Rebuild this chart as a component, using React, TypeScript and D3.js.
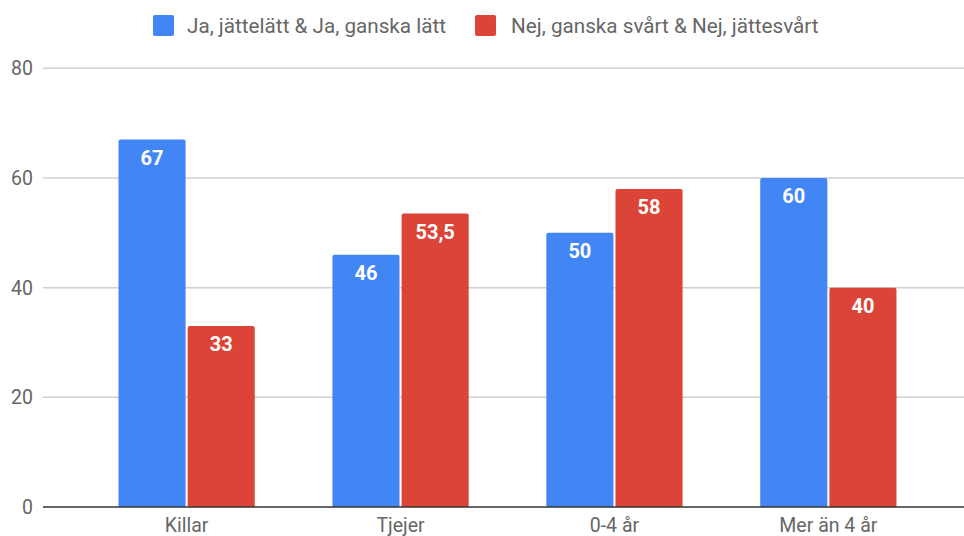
import React from 'react'
import * as d3 from 'd3'

const categories = ['Killar', 'Tjejer', '0-4 år', 'Mer än 4 år']
const seriesNames = ['Ja, jättelätt & Ja, ganska lätt', 'Nej, ganska svårt & Nej, jättesvårt']
const yesValues = [67, 46, 50, 60]
const noValues = [33, 53.5, 58, 40]
const yTicks = [0, 20, 40, 60, 80]
const colors = ['#4285F4', '#DB4437']

const W = 964
const H = 536
const FONT = 'Roboto, Arial, sans-serif'

const App = () => {
  const x = d3.scaleBand<string>()
    .domain(categories)
    .range([80, 935])
    .paddingInner(0.363)
    .paddingOuter(0.18)
  const x1 = d3.scaleBand<number>()
    .domain([0, 1])
    .range([0, x.bandwidth()])
    .paddingInner(0.03)
  const y = d3.scaleLinear().domain([0, 80]).range([507, 68.3])

  const series = [yesValues, noValues]
  const fmt = (v: number) => String(v).replace('.', ',')

  return (
    <svg width={W} height={H} style={{ position: 'absolute', left: 0, top: 0, background: '#fff' }}>
      {/* legend */}
      <rect x={153} y={15} width={21} height={21} rx={2} fill={colors[0]} />
      <text x={187} y={33} fontFamily={FONT} fontSize={20.7} fill="#666">{seriesNames[0]}</text>
      <rect x={475} y={15} width={21} height={21} rx={2} fill={colors[1]} />
      <text x={511} y={33} fontFamily={FONT} fontSize={20.7} fill="#666">{seriesNames[1]}</text>

      {/* grid */}
      {yTicks.map((t) => (
        <g key={t}>
          {t !== 0 && <line x1={43} x2={W} y1={y(t)} y2={y(t)} stroke="#d0d0d0" strokeWidth={1.5} />}
          <text x={33} y={y(t) + 7} textAnchor="end" fontFamily={FONT} fontSize={19.5} fill="#666">{t}</text>
        </g>
      ))}

      {/* bars */}
      {categories.map((c, i) => (
        <g key={c} transform={`translate(${x(c)},0)`}>
          {series.map((vals, s) => {
            const bx = x1(s) as number
            const bw = x1.bandwidth()
            const top = y(vals[i])
            return (
              <g key={s}>
                <path
                  d={`M${bx},${y(0)} V${top + 2} Q${bx},${top} ${bx + 2},${top} H${bx + bw - 2} Q${bx + bw},${top} ${bx + bw},${top + 2} V${y(0)} Z`}
                  fill={colors[s]}
                />
                <text x={bx + bw / 2} y={top + 25} textAnchor="middle" fontFamily={FONT} fontSize={20} fontWeight="bold" fill="#fff">
                  {fmt(vals[i])}
                </text>
              </g>
            )
          })}
          <text x={x.bandwidth() / 2} y={532} textAnchor="middle" fontFamily={FONT} fontSize={19.5} fill="#666">{c}</text>
        </g>
      ))}

      {/* baseline */}
      <line x1={43} x2={W} y1={y(0)} y2={y(0)} stroke="#333" strokeWidth={1.5} />
    </svg>
  )
}

export default App
